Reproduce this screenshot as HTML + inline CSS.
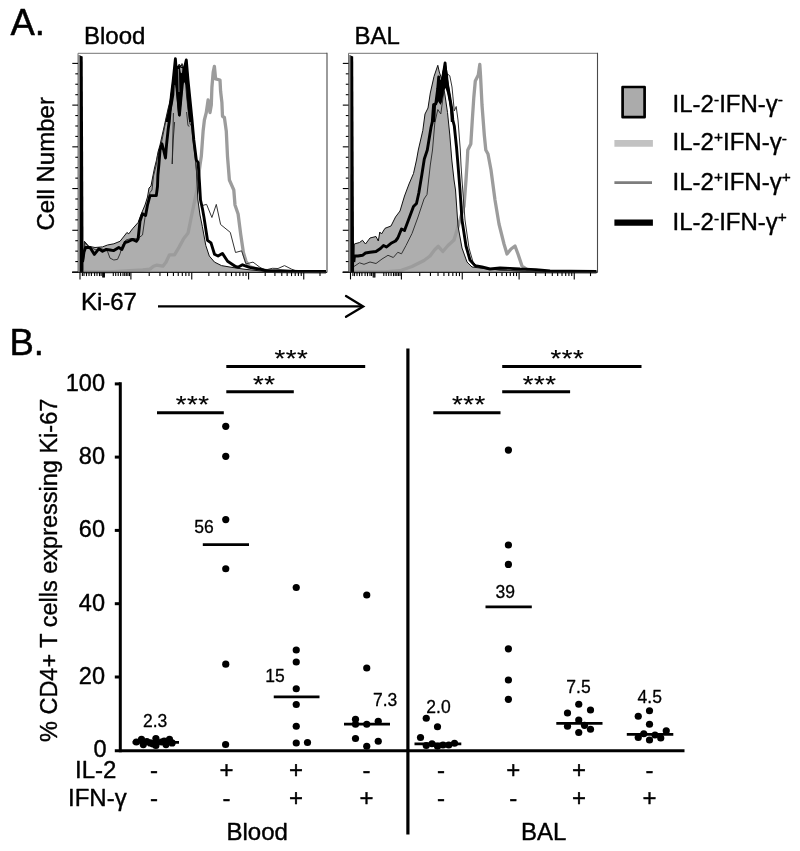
<!DOCTYPE html>
<html>
<head>
<meta charset="utf-8">
<title>Figure</title>
<style>
html,body{margin:0;padding:0;background:#fff;}
body{width:800px;height:851px;overflow:hidden;}
svg{display:block;filter:blur(0.35px);}
text{font-family:"Liberation Sans",sans-serif;fill:#000;stroke:#000;stroke-width:0.4px;stroke-linejoin:round;}
.t22{font-size:24px;}
.t21{font-size:23.5px;}
.tl{font-size:24px;}
.t16{font-size:17.5px;stroke-width:0.3px;}
.pan{font-size:36.5px;stroke-width:0.5px;}
.sup{font-size:15.5px;}
.ast{font-size:27.5px;letter-spacing:0.5px;stroke-width:0.2px;}
#wrap{width:800px;height:851px;will-change:transform;}
</style>
</head>
<body>
<div id="wrap">
<svg width="800" height="851" viewBox="0 0 800 851">
<rect x="0" y="0" width="800" height="851" fill="#fff"/>

<text class="pan" x="10.4" y="35.4">A.</text>
<text class="t22" x="84" y="44">Blood</text>
<text class="t22" x="354.4" y="44.4">BAL</text>
<text class="t22" transform="translate(54,230.5) rotate(-90)">Cell Number</text>
<text class="t22" x="80.9" y="310">Ki-67</text>
<line x1="158" y1="306.4" x2="362" y2="306.4" stroke="#000" stroke-width="2.3"/>
<polyline points="346,296 363.2,306.4 346,316.8" fill="none" stroke="#000" stroke-width="2.3" stroke-linejoin="miter" stroke-linecap="round"/>
<g id="hist-blood">
<polygon points="83.50,262.00 84.40,241.30 88.80,246.30 95.00,247.50 102.50,246.90 107.50,245.00 113.80,243.80 120.00,241.30 125.00,235.00 126.90,232.50 128.80,233.80 132.50,228.80 138.10,222.50 141.30,213.80 145.00,205.00 147.50,197.00 149.00,188.00 151.00,186.00 152.50,178.00 154.50,168.00 156.50,160.00 158.00,152.00 160.00,145.00 162.00,136.00 164.50,125.00 166.00,118.00 168.00,109.00 170.00,101.00 171.50,92.00 173.00,80.00 175.00,64.00 176.50,75.00 178.00,66.00 179.50,64.50 181.00,66.00 182.50,64.50 184.00,72.00 185.00,66.00 186.50,72.00 187.50,86.00 189.00,98.00 190.50,108.00 192.00,122.00 193.50,136.00 195.00,152.00 196.50,172.00 197.90,200.00 200.00,215.00 202.30,226.30 205.80,245.50 209.30,256.00 214.50,262.10 221.50,265.60 232.00,267.40 245.00,269.30 260.00,270.90 275.00,271.80 300.00,272.20 326.00,272.30 326.00,272.40 83.50,272.40" fill="#aeaeae" stroke="none"/>
<polyline points="84.00,272.00 110.00,271.80 130.00,270.60 143.00,270.00 150.00,269.10 153.50,266.30 156.50,265.20 162.90,266.20 166.10,262.00 169.40,254.90 174.50,254.90 179.10,247.10 183.60,238.70 188.10,232.90 190.70,220.00 193.80,205.00 196.90,190.00 200.00,165.00 201.30,156.30 203.10,131.30 204.40,120.00 206.30,112.50 208.10,100.00 210.00,112.50 211.30,105.00 211.90,87.50 213.20,72.00 214.40,66.30 215.60,78.80 220.00,80.00 220.60,91.30 221.90,102.50 222.50,116.30 224.40,117.50 226.30,131.30 227.50,156.30 229.40,180.00 233.80,190.00 235.00,205.00 238.10,214.00 240.80,235.00 243.40,252.50 246.00,261.30 249.50,266.50 260.00,270.00 275.00,271.50 300.00,272.20 326.00,272.30" fill="none" stroke="#9c9c9c" stroke-width="3.3" stroke-linejoin="round"/>
<polyline points="83.50,262.00 84.40,241.30 88.80,246.30 95.00,247.50 102.50,246.90 107.50,245.00 113.80,243.80 120.00,241.30 125.00,235.00 126.90,232.50 128.80,233.80 132.50,228.80 138.10,222.50 141.30,213.80 145.00,205.00 147.50,197.00 149.00,188.00 151.00,186.00 152.50,178.00 154.50,168.00 156.50,160.00 158.00,152.00 160.00,145.00 162.00,136.00 164.50,125.00 166.00,118.00 168.00,109.00 170.00,101.00 171.50,92.00 173.00,80.00 175.00,64.00 176.50,75.00 178.00,66.00 179.50,64.50 181.00,66.00 182.50,64.50 184.00,72.00 185.00,66.00 186.50,72.00 187.50,86.00 189.00,98.00 190.50,108.00 192.00,122.00 193.50,136.00 195.00,152.00 196.50,172.00 197.90,200.00 200.00,215.00 202.30,226.30 205.80,245.50 209.30,256.00 214.50,262.10 221.50,265.60 232.00,267.40 245.00,269.30 260.00,270.90 275.00,271.80 300.00,272.20 326.00,272.30" fill="none" stroke="#111" stroke-width="1" stroke-linejoin="round"/>
<polyline points="83.50,260.00 85.00,243.00 88.00,246.00 92.00,248.00 96.00,250.00 100.00,248.50 104.00,249.50 107.50,251.30 110.00,258.10 113.80,260.00 117.50,259.40 120.00,253.80 122.50,245.00 126.00,240.00 131.00,238.50 137.50,238.80 142.50,235.00 145.00,217.50 147.50,205.00 150.00,192.50 152.00,190.00 153.50,176.00 156.00,166.00 157.50,156.00 160.00,150.00 162.00,140.00 164.00,130.00 166.00,120.00 168.50,110.00 170.50,100.00 172.00,88.00 174.00,72.00 176.00,63.00 177.50,76.00 179.00,64.00 180.50,66.00 182.00,63.50 183.50,70.00 185.00,78.00 186.50,95.00 188.00,110.00 190.00,124.00 191.50,126.00 193.00,140.00 195.00,156.00 197.00,175.00 199.00,192.00 201.00,203.00 203.10,205.30 206.60,204.40 211.90,217.50 216.30,204.40 220.60,224.50 230.30,232.40 235.50,252.50 241.60,250.80 246.00,263.90 253.00,262.10 260.00,267.40 265.30,270.00 272.30,268.30 278.00,268.50 284.50,265.60 291.50,269.10 298.50,271.80 326.00,272.20" fill="none" stroke="#333" stroke-width="1" stroke-linejoin="round"/>
<polyline points="82.50,262.00 84.00,252.00 85.60,247.50 90.00,247.50 94.40,254.40 98.80,248.80 102.50,251.30 106.30,249.40 110.00,250.00 113.80,250.60 118.80,247.50 121.90,249.40 125.00,242.50 128.80,241.30 132.50,239.40 136.30,241.30 138.10,238.80 140.00,221.30 142.50,213.80 145.60,215.60 147.50,205.00 150.00,195.60 156.30,195.60 157.50,186.30 157.90,175.00 158.90,164.40 160.00,150.30 162.00,144.00 163.60,150.00 165.50,158.00 166.10,150.00 166.70,143.20 168.20,129.10 169.30,121.00 170.00,112.50 171.30,96.30 173.10,81.30 175.40,58.80 177.00,82.00 179.40,115.00 181.50,92.00 183.50,72.00 186.30,60.00 188.00,80.00 190.00,100.00 192.00,120.00 193.80,140.00 196.30,160.00 198.10,162.50 199.40,181.30 200.50,200.00 202.50,209.00 204.00,217.50 207.50,240.30 211.00,242.90 214.50,254.30 218.00,256.00 222.40,253.40 227.60,261.30 235.50,266.50 238.00,267.20 242.50,264.80 249.50,267.40 260.00,269.10 267.00,271.00 280.00,270.80 290.00,271.20 298.50,271.40 326.00,271.40" fill="none" stroke="#000" stroke-width="2.9" stroke-linejoin="round"/>
<polygon points="165.3,121.9 167.3,113.7 169.4,103 171.4,94.8 172.7,84.9 173.5,72.6 174.7,61.9 175.4,58.2 176.4,64.3 177.6,66 179.7,65.2 181.3,66.4 183.4,67.2 184.6,64.3 186.4,59 187.5,66 188.3,75 189.1,84.9 190.4,98 191.2,109.6 192.4,121.9 189.1,121.9 187.9,109.6 186.7,98 185.8,84.9 184.6,82.4 183.4,82.4 183,84.9 181.7,101.3 180.1,114.5 179.3,117 178,112.9 176.8,101.3 175.6,89 175.1,84.9 174.7,84.9 174.3,94.8 172.7,104.6 170.6,113.7 168.6,121.9" fill="#000"/><polygon points="180,67.6 182.4,68.2 182,73.2 180.7,72.4" fill="#aaa"/><polyline points="178.4,69 178.7,80 179,92" fill="none" stroke="#999" stroke-width="0.8"/><polyline points="173.4,113 172.9,135 172.2,164 173.2,140 174.6,122" fill="none" stroke="#222" stroke-width="0.9" stroke-linejoin="round"/><polyline points="186.6,112 187.4,120 188,125.6 189.4,126.3" fill="none" stroke="#222" stroke-width="0.9" stroke-linejoin="round"/>
<rect x="78.20" y="55" width="2" height="217.4" fill="#8a8a8a"/>
<polygon points="79.90,55.5 82.70,56.5 83.60,272.4 79.80,272.4" fill="#000"/>
<path d="M78.00 272.4 V53.3 H327.00" fill="none" stroke="#757575" stroke-width="1"/>
<line x1="327.00" y1="52.8" x2="327.00" y2="272.4" stroke="#4a4a4a" stroke-width="1.1"/>
<line x1="72.00" y1="272.4" x2="327.00" y2="272.4" stroke="#222" stroke-width="1.2"/>
<line x1="72.30" y1="272.00" x2="78.00" y2="272.00" stroke="#000" stroke-width="1.1"/>
<line x1="75.30" y1="261.57" x2="78.00" y2="261.57" stroke="#000" stroke-width="1.1"/>
<line x1="75.30" y1="251.14" x2="78.00" y2="251.14" stroke="#000" stroke-width="1.1"/>
<line x1="75.30" y1="240.71" x2="78.00" y2="240.71" stroke="#000" stroke-width="1.1"/>
<line x1="72.30" y1="230.28" x2="78.00" y2="230.28" stroke="#000" stroke-width="1.1"/>
<line x1="75.30" y1="219.85" x2="78.00" y2="219.85" stroke="#000" stroke-width="1.1"/>
<line x1="75.30" y1="209.42" x2="78.00" y2="209.42" stroke="#000" stroke-width="1.1"/>
<line x1="75.30" y1="198.99" x2="78.00" y2="198.99" stroke="#000" stroke-width="1.1"/>
<line x1="72.30" y1="188.56" x2="78.00" y2="188.56" stroke="#000" stroke-width="1.1"/>
<line x1="75.30" y1="178.13" x2="78.00" y2="178.13" stroke="#000" stroke-width="1.1"/>
<line x1="75.30" y1="167.70" x2="78.00" y2="167.70" stroke="#000" stroke-width="1.1"/>
<line x1="75.30" y1="157.27" x2="78.00" y2="157.27" stroke="#000" stroke-width="1.1"/>
<line x1="72.30" y1="146.84" x2="78.00" y2="146.84" stroke="#000" stroke-width="1.1"/>
<line x1="75.30" y1="136.41" x2="78.00" y2="136.41" stroke="#000" stroke-width="1.1"/>
<line x1="75.30" y1="125.98" x2="78.00" y2="125.98" stroke="#000" stroke-width="1.1"/>
<line x1="75.30" y1="115.55" x2="78.00" y2="115.55" stroke="#000" stroke-width="1.1"/>
<line x1="72.30" y1="105.12" x2="78.00" y2="105.12" stroke="#000" stroke-width="1.1"/>
<line x1="75.30" y1="94.69" x2="78.00" y2="94.69" stroke="#000" stroke-width="1.1"/>
<line x1="75.30" y1="84.26" x2="78.00" y2="84.26" stroke="#000" stroke-width="1.1"/>
<line x1="75.30" y1="73.83" x2="78.00" y2="73.83" stroke="#000" stroke-width="1.1"/>
<line x1="72.30" y1="63.40" x2="78.00" y2="63.40" stroke="#000" stroke-width="1.1"/>
<line x1="80.00" y1="272.4" x2="80.00" y2="279.40" stroke="#000" stroke-width="1.1"/>
<line x1="130.90" y1="272.4" x2="130.90" y2="279.40" stroke="#000" stroke-width="1.1"/>
<line x1="191.75" y1="272.4" x2="191.75" y2="279.40" stroke="#000" stroke-width="1.1"/>
<line x1="248.60" y1="272.4" x2="248.60" y2="279.40" stroke="#000" stroke-width="1.1"/>
<line x1="303.75" y1="272.4" x2="303.75" y2="279.40" stroke="#000" stroke-width="1.1"/>
<line x1="82.40" y1="272.4" x2="82.40" y2="276.10" stroke="#000" stroke-width="1.1"/>
<line x1="84.00" y1="272.4" x2="84.00" y2="276.10" stroke="#000" stroke-width="1.1"/>
<line x1="86.50" y1="272.4" x2="86.50" y2="276.10" stroke="#000" stroke-width="1.1"/>
<line x1="89.00" y1="272.4" x2="89.00" y2="276.10" stroke="#000" stroke-width="1.1"/>
<line x1="91.40" y1="272.4" x2="91.40" y2="276.10" stroke="#000" stroke-width="1.1"/>
<line x1="94.60" y1="272.4" x2="94.60" y2="276.10" stroke="#000" stroke-width="1.1"/>
<line x1="97.00" y1="272.4" x2="97.00" y2="276.10" stroke="#000" stroke-width="1.1"/>
<line x1="99.50" y1="272.4" x2="99.50" y2="276.10" stroke="#000" stroke-width="1.1"/>
<line x1="101.10" y1="272.4" x2="101.10" y2="276.10" stroke="#000" stroke-width="1.1"/>
<line x1="102.70" y1="272.4" x2="102.70" y2="277.40" stroke="#000" stroke-width="1.1"/>
<line x1="103.60" y1="272.4" x2="103.60" y2="277.40" stroke="#000" stroke-width="1.1"/>
<line x1="104.40" y1="272.4" x2="104.40" y2="277.40" stroke="#000" stroke-width="1.1"/>
<line x1="113.30" y1="272.4" x2="113.30" y2="276.10" stroke="#000" stroke-width="1.1"/>
<line x1="115.70" y1="272.4" x2="115.70" y2="276.10" stroke="#000" stroke-width="1.1"/>
<line x1="118.20" y1="272.4" x2="118.20" y2="276.10" stroke="#000" stroke-width="1.1"/>
<line x1="120.60" y1="272.4" x2="120.60" y2="276.10" stroke="#000" stroke-width="1.1"/>
<line x1="123.00" y1="272.4" x2="123.00" y2="276.10" stroke="#000" stroke-width="1.1"/>
<line x1="124.70" y1="272.4" x2="124.70" y2="276.10" stroke="#000" stroke-width="1.1"/>
<line x1="126.30" y1="272.4" x2="126.30" y2="276.10" stroke="#000" stroke-width="1.1"/>
<line x1="127.90" y1="272.4" x2="127.90" y2="276.10" stroke="#000" stroke-width="1.1"/>
<line x1="129.50" y1="272.4" x2="129.50" y2="276.10" stroke="#000" stroke-width="1.1"/>
<line x1="149.22" y1="272.4" x2="149.22" y2="276.10" stroke="#000" stroke-width="1.1"/>
<line x1="159.93" y1="272.4" x2="159.93" y2="276.10" stroke="#000" stroke-width="1.1"/>
<line x1="167.54" y1="272.4" x2="167.54" y2="276.10" stroke="#000" stroke-width="1.1"/>
<line x1="173.43" y1="272.4" x2="173.43" y2="276.10" stroke="#000" stroke-width="1.1"/>
<line x1="178.25" y1="272.4" x2="178.25" y2="276.10" stroke="#000" stroke-width="1.1"/>
<line x1="182.32" y1="272.4" x2="182.32" y2="276.10" stroke="#000" stroke-width="1.1"/>
<line x1="185.85" y1="272.4" x2="185.85" y2="276.10" stroke="#000" stroke-width="1.1"/>
<line x1="188.97" y1="272.4" x2="188.97" y2="276.10" stroke="#000" stroke-width="1.1"/>
<line x1="208.86" y1="272.4" x2="208.86" y2="276.10" stroke="#000" stroke-width="1.1"/>
<line x1="218.87" y1="272.4" x2="218.87" y2="276.10" stroke="#000" stroke-width="1.1"/>
<line x1="225.98" y1="272.4" x2="225.98" y2="276.10" stroke="#000" stroke-width="1.1"/>
<line x1="231.49" y1="272.4" x2="231.49" y2="276.10" stroke="#000" stroke-width="1.1"/>
<line x1="235.99" y1="272.4" x2="235.99" y2="276.10" stroke="#000" stroke-width="1.1"/>
<line x1="239.79" y1="272.4" x2="239.79" y2="276.10" stroke="#000" stroke-width="1.1"/>
<line x1="243.09" y1="272.4" x2="243.09" y2="276.10" stroke="#000" stroke-width="1.1"/>
<line x1="246.00" y1="272.4" x2="246.00" y2="276.10" stroke="#000" stroke-width="1.1"/>
<line x1="265.20" y1="272.4" x2="265.20" y2="276.10" stroke="#000" stroke-width="1.1"/>
<line x1="274.91" y1="272.4" x2="274.91" y2="276.10" stroke="#000" stroke-width="1.1"/>
<line x1="281.80" y1="272.4" x2="281.80" y2="276.10" stroke="#000" stroke-width="1.1"/>
<line x1="287.15" y1="272.4" x2="287.15" y2="276.10" stroke="#000" stroke-width="1.1"/>
<line x1="291.52" y1="272.4" x2="291.52" y2="276.10" stroke="#000" stroke-width="1.1"/>
<line x1="295.21" y1="272.4" x2="295.21" y2="276.10" stroke="#000" stroke-width="1.1"/>
<line x1="298.41" y1="272.4" x2="298.41" y2="276.10" stroke="#000" stroke-width="1.1"/>
<line x1="301.23" y1="272.4" x2="301.23" y2="276.10" stroke="#000" stroke-width="1.1"/>
<line x1="320.01" y1="272.4" x2="320.01" y2="276.10" stroke="#000" stroke-width="1.1"/>
</g>
<g id="hist-bal">
<polygon points="354.00,262.00 354.30,244.00 359.50,242.50 362.50,240.30 365.50,244.00 370.00,238.00 376.00,236.50 378.30,241.00 379.80,232.00 381.50,234.00 385.00,228.30 391.00,226.00 395.50,217.00 400.00,211.00 404.50,196.00 409.00,184.00 413.50,173.50 416.50,160.00 418.30,150.00 422.80,130.50 425.00,114.00 428.00,108.00 430.30,93.00 434.00,76.50 437.80,65.30 439.30,72.00 442.00,80.00 444.50,92.00 447.50,112.50 449.80,135.00 451.80,160.00 454.00,180.00 455.50,190.00 458.00,226.00 462.00,248.00 467.00,262.00 472.00,267.00 480.00,268.00 500.00,270.00 530.00,271.50 560.00,272.20 596.50,272.30 596.50,272.40 354.00,272.40" fill="#aeaeae" stroke="none"/>
<polyline points="354.00,272.00 359.50,271.80 385.00,271.80 400.00,270.70 412.00,266.50 424.00,260.50 430.00,256.00 434.50,250.00 438.30,246.30 442.80,251.50 448.00,245.50 454.00,240.00 460.00,220.00 464.00,206.00 466.00,180.00 467.30,160.00 467.80,150.00 470.80,144.00 472.30,120.00 473.80,97.50 475.30,81.00 478.30,75.00 479.80,64.50 480.50,75.00 482.00,105.00 484.30,135.00 485.80,150.00 488.00,154.00 491.00,170.00 495.00,200.00 499.00,224.00 504.00,244.00 507.00,254.00 511.00,249.00 515.00,246.00 518.00,254.00 522.00,266.00 528.00,270.00 536.00,272.00 596.50,272.30" fill="none" stroke="#9c9c9c" stroke-width="3.3" stroke-linejoin="round"/>
<polyline points="354.00,262.00 354.30,244.00 359.50,242.50 362.50,240.30 365.50,244.00 370.00,238.00 376.00,236.50 378.30,241.00 379.80,232.00 381.50,234.00 385.00,228.30 391.00,226.00 395.50,217.00 400.00,211.00 404.50,196.00 409.00,184.00 413.50,173.50 416.50,160.00 418.30,150.00 422.80,130.50 425.00,114.00 428.00,108.00 430.30,93.00 434.00,76.50 437.80,65.30 439.30,72.00 442.00,80.00 444.50,92.00 447.50,112.50 449.80,135.00 451.80,160.00 454.00,180.00 455.50,190.00 458.00,226.00 462.00,248.00 467.00,262.00 472.00,267.00 480.00,268.00 500.00,270.00 530.00,271.50 560.00,272.20 596.50,272.30" fill="none" stroke="#111" stroke-width="1" stroke-linejoin="round"/>
<polyline points="352.80,267.30 359.50,262.80 364.00,264.30 370.00,262.00 376.00,263.50 382.00,259.00 388.00,255.30 393.30,257.50 397.80,252.30 401.50,253.80 406.00,245.50 412.00,233.50 418.00,217.00 424.00,199.00 427.00,194.50 428.50,181.00 430.30,165.00 432.50,150.00 434.80,123.00 437.80,109.50 440.80,114.00 443.80,91.50 446.00,78.00 447.50,74.00 449.80,75.80 452.00,87.00 454.30,111.00 456.20,106.50 458.00,120.00 460.30,150.00 461.00,165.00 462.00,180.00 465.00,220.00 469.00,248.00 473.00,262.00 477.00,266.00 485.00,268.50 500.00,270.00 530.00,271.50 560.00,272.20 596.50,272.30" fill="none" stroke="#333" stroke-width="1" stroke-linejoin="round"/>
<polyline points="353.80,262.00 354.50,256.00 358.00,256.00 362.50,255.30 365.50,253.00 370.00,252.30 376.00,251.50 380.50,248.50 383.50,245.50 386.50,247.00 391.00,243.30 395.50,241.00 397.80,238.00 401.50,229.00 404.50,230.50 409.00,218.50 413.50,206.50 416.50,203.50 418.80,193.00 421.80,175.00 424.30,159.00 427.30,150.00 431.00,127.50 432.30,121.90 433.60,104.60 435.80,103.80 437.70,89.00 438.70,77.00 440.10,102.00 442.50,80.00 445.10,63.00 446.10,76.70 449.00,93.10 451.90,109.60 452.80,120.00 454.30,126.00 456.50,147.00 458.00,165.00 460.00,190.00 462.00,220.00 466.00,246.00 470.00,260.00 475.00,265.60 482.00,267.00 490.00,269.00 500.00,268.00 510.00,268.40 520.00,269.00 536.00,269.60 550.00,271.00 570.00,271.30 596.50,271.40" fill="none" stroke="#000" stroke-width="2.9" stroke-linejoin="round"/>
<polygon points="432.3,121.9 433.6,104.6 435.6,101.3 436.9,89 437.7,79.1 438.5,75.5 439.6,79.5 441.2,80 442.2,72.6 443.8,66.5 445.1,62 446.3,66 448,75 448.8,84.9 450.8,98 452.9,111.2 454.1,121.9 450.8,121.9 450,109.6 448.8,101.3 447.1,93.1 445.5,88 444,90.5 443.4,95 442,101 440.6,105 439.5,103 438.5,101.3 436,105.5 435.2,121.9" fill="#000"/>
<rect x="348.70" y="55" width="2" height="217.4" fill="#8a8a8a"/>
<polygon points="350.40,55.5 353.20,56.5 354.10,272.4 350.30,272.4" fill="#000"/>
<path d="M348.50 272.4 V53.3 H597.50" fill="none" stroke="#757575" stroke-width="1"/>
<line x1="597.50" y1="52.8" x2="597.50" y2="272.4" stroke="#4a4a4a" stroke-width="1.1"/>
<line x1="342.50" y1="272.4" x2="597.50" y2="272.4" stroke="#222" stroke-width="1.2"/>
<line x1="342.80" y1="272.00" x2="348.50" y2="272.00" stroke="#000" stroke-width="1.1"/>
<line x1="345.80" y1="261.57" x2="348.50" y2="261.57" stroke="#000" stroke-width="1.1"/>
<line x1="345.80" y1="251.14" x2="348.50" y2="251.14" stroke="#000" stroke-width="1.1"/>
<line x1="345.80" y1="240.71" x2="348.50" y2="240.71" stroke="#000" stroke-width="1.1"/>
<line x1="342.80" y1="230.28" x2="348.50" y2="230.28" stroke="#000" stroke-width="1.1"/>
<line x1="345.80" y1="219.85" x2="348.50" y2="219.85" stroke="#000" stroke-width="1.1"/>
<line x1="345.80" y1="209.42" x2="348.50" y2="209.42" stroke="#000" stroke-width="1.1"/>
<line x1="345.80" y1="198.99" x2="348.50" y2="198.99" stroke="#000" stroke-width="1.1"/>
<line x1="342.80" y1="188.56" x2="348.50" y2="188.56" stroke="#000" stroke-width="1.1"/>
<line x1="345.80" y1="178.13" x2="348.50" y2="178.13" stroke="#000" stroke-width="1.1"/>
<line x1="345.80" y1="167.70" x2="348.50" y2="167.70" stroke="#000" stroke-width="1.1"/>
<line x1="345.80" y1="157.27" x2="348.50" y2="157.27" stroke="#000" stroke-width="1.1"/>
<line x1="342.80" y1="146.84" x2="348.50" y2="146.84" stroke="#000" stroke-width="1.1"/>
<line x1="345.80" y1="136.41" x2="348.50" y2="136.41" stroke="#000" stroke-width="1.1"/>
<line x1="345.80" y1="125.98" x2="348.50" y2="125.98" stroke="#000" stroke-width="1.1"/>
<line x1="345.80" y1="115.55" x2="348.50" y2="115.55" stroke="#000" stroke-width="1.1"/>
<line x1="342.80" y1="105.12" x2="348.50" y2="105.12" stroke="#000" stroke-width="1.1"/>
<line x1="345.80" y1="94.69" x2="348.50" y2="94.69" stroke="#000" stroke-width="1.1"/>
<line x1="345.80" y1="84.26" x2="348.50" y2="84.26" stroke="#000" stroke-width="1.1"/>
<line x1="345.80" y1="73.83" x2="348.50" y2="73.83" stroke="#000" stroke-width="1.1"/>
<line x1="342.80" y1="63.40" x2="348.50" y2="63.40" stroke="#000" stroke-width="1.1"/>
<line x1="350.50" y1="272.4" x2="350.50" y2="279.40" stroke="#000" stroke-width="1.1"/>
<line x1="401.40" y1="272.4" x2="401.40" y2="279.40" stroke="#000" stroke-width="1.1"/>
<line x1="462.25" y1="272.4" x2="462.25" y2="279.40" stroke="#000" stroke-width="1.1"/>
<line x1="519.10" y1="272.4" x2="519.10" y2="279.40" stroke="#000" stroke-width="1.1"/>
<line x1="574.25" y1="272.4" x2="574.25" y2="279.40" stroke="#000" stroke-width="1.1"/>
<line x1="352.90" y1="272.4" x2="352.90" y2="276.10" stroke="#000" stroke-width="1.1"/>
<line x1="354.50" y1="272.4" x2="354.50" y2="276.10" stroke="#000" stroke-width="1.1"/>
<line x1="357.00" y1="272.4" x2="357.00" y2="276.10" stroke="#000" stroke-width="1.1"/>
<line x1="359.50" y1="272.4" x2="359.50" y2="276.10" stroke="#000" stroke-width="1.1"/>
<line x1="361.90" y1="272.4" x2="361.90" y2="276.10" stroke="#000" stroke-width="1.1"/>
<line x1="365.10" y1="272.4" x2="365.10" y2="276.10" stroke="#000" stroke-width="1.1"/>
<line x1="367.50" y1="272.4" x2="367.50" y2="276.10" stroke="#000" stroke-width="1.1"/>
<line x1="370.00" y1="272.4" x2="370.00" y2="276.10" stroke="#000" stroke-width="1.1"/>
<line x1="371.60" y1="272.4" x2="371.60" y2="276.10" stroke="#000" stroke-width="1.1"/>
<line x1="373.20" y1="272.4" x2="373.20" y2="277.40" stroke="#000" stroke-width="1.1"/>
<line x1="374.10" y1="272.4" x2="374.10" y2="277.40" stroke="#000" stroke-width="1.1"/>
<line x1="374.90" y1="272.4" x2="374.90" y2="277.40" stroke="#000" stroke-width="1.1"/>
<line x1="383.80" y1="272.4" x2="383.80" y2="276.10" stroke="#000" stroke-width="1.1"/>
<line x1="386.20" y1="272.4" x2="386.20" y2="276.10" stroke="#000" stroke-width="1.1"/>
<line x1="388.70" y1="272.4" x2="388.70" y2="276.10" stroke="#000" stroke-width="1.1"/>
<line x1="391.10" y1="272.4" x2="391.10" y2="276.10" stroke="#000" stroke-width="1.1"/>
<line x1="393.50" y1="272.4" x2="393.50" y2="276.10" stroke="#000" stroke-width="1.1"/>
<line x1="395.20" y1="272.4" x2="395.20" y2="276.10" stroke="#000" stroke-width="1.1"/>
<line x1="396.80" y1="272.4" x2="396.80" y2="276.10" stroke="#000" stroke-width="1.1"/>
<line x1="398.40" y1="272.4" x2="398.40" y2="276.10" stroke="#000" stroke-width="1.1"/>
<line x1="400.00" y1="272.4" x2="400.00" y2="276.10" stroke="#000" stroke-width="1.1"/>
<line x1="419.72" y1="272.4" x2="419.72" y2="276.10" stroke="#000" stroke-width="1.1"/>
<line x1="430.43" y1="272.4" x2="430.43" y2="276.10" stroke="#000" stroke-width="1.1"/>
<line x1="438.04" y1="272.4" x2="438.04" y2="276.10" stroke="#000" stroke-width="1.1"/>
<line x1="443.93" y1="272.4" x2="443.93" y2="276.10" stroke="#000" stroke-width="1.1"/>
<line x1="448.75" y1="272.4" x2="448.75" y2="276.10" stroke="#000" stroke-width="1.1"/>
<line x1="452.82" y1="272.4" x2="452.82" y2="276.10" stroke="#000" stroke-width="1.1"/>
<line x1="456.35" y1="272.4" x2="456.35" y2="276.10" stroke="#000" stroke-width="1.1"/>
<line x1="459.47" y1="272.4" x2="459.47" y2="276.10" stroke="#000" stroke-width="1.1"/>
<line x1="479.36" y1="272.4" x2="479.36" y2="276.10" stroke="#000" stroke-width="1.1"/>
<line x1="489.37" y1="272.4" x2="489.37" y2="276.10" stroke="#000" stroke-width="1.1"/>
<line x1="496.48" y1="272.4" x2="496.48" y2="276.10" stroke="#000" stroke-width="1.1"/>
<line x1="501.99" y1="272.4" x2="501.99" y2="276.10" stroke="#000" stroke-width="1.1"/>
<line x1="506.49" y1="272.4" x2="506.49" y2="276.10" stroke="#000" stroke-width="1.1"/>
<line x1="510.29" y1="272.4" x2="510.29" y2="276.10" stroke="#000" stroke-width="1.1"/>
<line x1="513.59" y1="272.4" x2="513.59" y2="276.10" stroke="#000" stroke-width="1.1"/>
<line x1="516.50" y1="272.4" x2="516.50" y2="276.10" stroke="#000" stroke-width="1.1"/>
<line x1="535.70" y1="272.4" x2="535.70" y2="276.10" stroke="#000" stroke-width="1.1"/>
<line x1="545.41" y1="272.4" x2="545.41" y2="276.10" stroke="#000" stroke-width="1.1"/>
<line x1="552.30" y1="272.4" x2="552.30" y2="276.10" stroke="#000" stroke-width="1.1"/>
<line x1="557.65" y1="272.4" x2="557.65" y2="276.10" stroke="#000" stroke-width="1.1"/>
<line x1="562.02" y1="272.4" x2="562.02" y2="276.10" stroke="#000" stroke-width="1.1"/>
<line x1="565.71" y1="272.4" x2="565.71" y2="276.10" stroke="#000" stroke-width="1.1"/>
<line x1="568.91" y1="272.4" x2="568.91" y2="276.10" stroke="#000" stroke-width="1.1"/>
<line x1="571.73" y1="272.4" x2="571.73" y2="276.10" stroke="#000" stroke-width="1.1"/>
<line x1="590.51" y1="272.4" x2="590.51" y2="276.10" stroke="#000" stroke-width="1.1"/>
</g>
<rect x="622.6" y="87" width="22" height="30.2" fill="#ababab" stroke="#000" stroke-width="2.7" stroke-linejoin="round"/>
<line x1="614.4" y1="143.4" x2="652.9" y2="143.4" stroke="#c2c2c2" stroke-width="6.8"/>
<line x1="614.4" y1="182.6" x2="652" y2="182.6" stroke="#7d7d7d" stroke-width="2.8"/>
<line x1="614.4" y1="222.7" x2="652.9" y2="222.7" stroke="#000" stroke-width="6.2"/>
<text class="t22" x="672.6" y="112.2">IL-2<tspan class="sup" dy="-6.8">-</tspan><tspan dy="6.8">IFN-γ</tspan><tspan class="sup" dy="-6.8">-</tspan></text>
<text class="t22" x="672.6" y="150.4">IL-2<tspan class="sup" dy="-8.2">+</tspan><tspan dy="8.2">IFN-γ</tspan><tspan class="sup" dy="-6.8">-</tspan></text>
<text class="t22" x="672.6" y="190.4">IL-2<tspan class="sup" dy="-8.2">+</tspan><tspan dy="8.2">IFN-γ</tspan><tspan class="sup" dy="-8.2">+</tspan></text>
<text class="t22" x="672.6" y="230.4">IL-2<tspan class="sup" dy="-6.8">-</tspan><tspan dy="6.8">IFN-γ</tspan><tspan class="sup" dy="-8.2">+</tspan></text>
<text class="pan" x="9.5" y="355.3">B.</text>
<line x1="120.3" y1="382.3" x2="120.3" y2="752.2" stroke="#000" stroke-width="3"/>
<line x1="114.8" y1="750.8" x2="684.5" y2="750.7" stroke="#000" stroke-width="3"/>
<line x1="407.9" y1="348.5" x2="407.9" y2="834.5" stroke="#000" stroke-width="3.2"/>
<line x1="114.8" y1="383.9" x2="120.3" y2="383.9" stroke="#000" stroke-width="3"/>
<text class="t21" x="105" y="390.7" text-anchor="end">100</text>
<line x1="114.8" y1="457.1" x2="120.3" y2="457.1" stroke="#000" stroke-width="3"/>
<text class="t21" x="105" y="463.9" text-anchor="end">80</text>
<line x1="114.8" y1="530.4" x2="120.3" y2="530.4" stroke="#000" stroke-width="3"/>
<text class="t21" x="105" y="537.2" text-anchor="end">60</text>
<line x1="114.8" y1="603.7" x2="120.3" y2="603.7" stroke="#000" stroke-width="3"/>
<text class="t21" x="105" y="610.5" text-anchor="end">40</text>
<line x1="114.8" y1="677.0" x2="120.3" y2="677.0" stroke="#000" stroke-width="3"/>
<text class="t21" x="105" y="683.8" text-anchor="end">20</text>
<text class="t21" x="106.6" y="757.2" text-anchor="end">0</text>
<text class="t21" transform="translate(56.5,742) rotate(-90)">% CD4+ T cells expressing Ki-67</text>
<line x1="226.30" y1="366.50" x2="365.20" y2="366.50" stroke="#000" stroke-width="3.0"/>
<line x1="226.30" y1="391.80" x2="293.80" y2="391.80" stroke="#000" stroke-width="3.0"/>
<line x1="157.00" y1="412.70" x2="223.80" y2="412.70" stroke="#000" stroke-width="3.0"/>
<line x1="502.20" y1="366.50" x2="641.50" y2="366.50" stroke="#000" stroke-width="3.0"/>
<line x1="502.20" y1="391.80" x2="570.10" y2="391.80" stroke="#000" stroke-width="3.0"/>
<line x1="433.30" y1="412.70" x2="500.50" y2="412.70" stroke="#000" stroke-width="3.0"/>
<text class="ast" transform="translate(291.3,367.2) scale(1,0.9)" text-anchor="middle">***</text>
<text class="ast" transform="translate(264.3,392.5) scale(1,0.9)" text-anchor="middle">**</text>
<text class="ast" transform="translate(192.6,413.4) scale(1,0.9)" text-anchor="middle">***</text>
<text class="ast" transform="translate(567.3,367.2) scale(1,0.9)" text-anchor="middle">***</text>
<text class="ast" transform="translate(539.6,392.5) scale(1,0.9)" text-anchor="middle">***</text>
<text class="ast" transform="translate(468.9,413.4) scale(1,0.9)" text-anchor="middle">***</text>
<line x1="132.60" y1="742.30" x2="179.00" y2="742.30" stroke="#000" stroke-width="2.8"/>
<line x1="202.80" y1="544.70" x2="249.00" y2="544.70" stroke="#000" stroke-width="2.8"/>
<line x1="273.75" y1="696.80" x2="319.50" y2="696.80" stroke="#000" stroke-width="2.8"/>
<line x1="344.00" y1="724.10" x2="390.00" y2="724.10" stroke="#000" stroke-width="2.8"/>
<line x1="414.50" y1="743.80" x2="461.30" y2="743.80" stroke="#000" stroke-width="2.8"/>
<line x1="485.50" y1="606.80" x2="531.80" y2="606.80" stroke="#000" stroke-width="2.8"/>
<line x1="556.30" y1="723.40" x2="602.50" y2="723.40" stroke="#000" stroke-width="2.8"/>
<line x1="626.80" y1="734.30" x2="673.30" y2="734.30" stroke="#000" stroke-width="2.8"/>
<g fill="#000">
<circle cx="136.30" cy="742.00" r="3.6"/>
<circle cx="141.50" cy="739.40" r="3.6"/>
<circle cx="143.30" cy="744.60" r="3.6"/>
<circle cx="150.30" cy="742.90" r="3.6"/>
<circle cx="155.90" cy="738.50" r="3.6"/>
<circle cx="155.90" cy="745.50" r="3.6"/>
<circle cx="161.60" cy="742.00" r="3.6"/>
<circle cx="166.00" cy="744.60" r="3.6"/>
<circle cx="169.50" cy="739.40" r="3.6"/>
<circle cx="172.10" cy="742.90" r="3.6"/>
<circle cx="146.80" cy="741.60" r="3.6"/>
<circle cx="152.80" cy="743.80" r="3.6"/>
<circle cx="164.20" cy="741.20" r="3.6"/>
<circle cx="225.75" cy="426.30" r="3.6"/>
<circle cx="225.75" cy="456.30" r="3.6"/>
<circle cx="225.75" cy="519.60" r="3.6"/>
<circle cx="225.75" cy="568.75" r="3.6"/>
<circle cx="225.75" cy="664.20" r="3.6"/>
<circle cx="225.60" cy="744.50" r="3.6"/>
<circle cx="296.25" cy="587.50" r="3.6"/>
<circle cx="296.25" cy="650.00" r="3.6"/>
<circle cx="296.25" cy="662.00" r="3.6"/>
<circle cx="296.25" cy="688.75" r="3.6"/>
<circle cx="296.25" cy="704.50" r="3.6"/>
<circle cx="296.25" cy="726.25" r="3.6"/>
<circle cx="296.25" cy="743.00" r="3.6"/>
<circle cx="307.50" cy="742.50" r="3.6"/>
<circle cx="366.75" cy="595.00" r="3.6"/>
<circle cx="366.75" cy="668.00" r="3.6"/>
<circle cx="355.50" cy="719.25" r="3.6"/>
<circle cx="378.25" cy="721.25" r="3.6"/>
<circle cx="355.50" cy="724.25" r="3.6"/>
<circle cx="366.75" cy="724.25" r="3.6"/>
<circle cx="355.50" cy="738.50" r="3.6"/>
<circle cx="378.25" cy="741.25" r="3.6"/>
<circle cx="366.75" cy="746.25" r="3.6"/>
<circle cx="426.25" cy="718.25" r="3.6"/>
<circle cx="437.50" cy="726.75" r="3.6"/>
<circle cx="420.50" cy="737.50" r="3.6"/>
<circle cx="426.25" cy="745.50" r="3.6"/>
<circle cx="432.00" cy="743.75" r="3.6"/>
<circle cx="437.50" cy="746.25" r="3.6"/>
<circle cx="443.00" cy="745.00" r="3.6"/>
<circle cx="448.75" cy="745.00" r="3.6"/>
<circle cx="454.50" cy="743.25" r="3.6"/>
<circle cx="508.40" cy="450.10" r="3.6"/>
<circle cx="508.40" cy="545.00" r="3.6"/>
<circle cx="508.40" cy="564.40" r="3.6"/>
<circle cx="508.40" cy="648.80" r="3.6"/>
<circle cx="508.40" cy="680.00" r="3.6"/>
<circle cx="508.40" cy="699.30" r="3.6"/>
<circle cx="578.75" cy="704.25" r="3.6"/>
<circle cx="567.50" cy="713.00" r="3.6"/>
<circle cx="590.50" cy="710.00" r="3.6"/>
<circle cx="578.75" cy="720.00" r="3.6"/>
<circle cx="567.50" cy="726.25" r="3.6"/>
<circle cx="584.50" cy="725.30" r="3.6"/>
<circle cx="590.50" cy="729.25" r="3.6"/>
<circle cx="578.75" cy="732.50" r="3.6"/>
<circle cx="649.50" cy="710.75" r="3.6"/>
<circle cx="638.25" cy="716.25" r="3.6"/>
<circle cx="649.50" cy="724.25" r="3.6"/>
<circle cx="666.25" cy="730.75" r="3.6"/>
<circle cx="643.75" cy="733.75" r="3.6"/>
<circle cx="655.00" cy="735.00" r="3.6"/>
<circle cx="638.25" cy="737.50" r="3.6"/>
<circle cx="660.75" cy="738.00" r="3.6"/>
<circle cx="649.50" cy="740.00" r="3.6"/>
</g>
<text class="t16" x="143.0" y="727.4">2.3</text>
<text class="t16" x="194.3" y="532.5">56</text>
<text class="t16" x="265.2" y="681.8">15</text>
<text class="t16" x="373.0" y="706.3">7.3</text>
<text class="t16" x="426.3" y="712.5">2.0</text>
<text class="t16" x="495.5" y="597.5">39</text>
<text class="t16" x="566.3" y="692.5">7.5</text>
<text class="t16" x="637.6" y="703.0">4.5</text>
<text class="tl" x="75" y="778">IL-2</text>
<text class="tl" x="68" y="806.3">IFN-γ</text>
<text class="tl" x="154.1" y="778" text-anchor="middle">-</text>
<text class="tl" x="226.6" y="778" text-anchor="middle">+</text>
<text class="tl" x="295.9" y="778" text-anchor="middle">+</text>
<text class="tl" x="366.5" y="778" text-anchor="middle">-</text>
<text class="tl" x="440.9" y="778" text-anchor="middle">-</text>
<text class="tl" x="513.2" y="778" text-anchor="middle">+</text>
<text class="tl" x="578.9" y="778" text-anchor="middle">+</text>
<text class="tl" x="649.6" y="778" text-anchor="middle">-</text>
<text class="tl" x="154.1" y="806.1" text-anchor="middle">-</text>
<text class="tl" x="226.6" y="806.1" text-anchor="middle">-</text>
<text class="tl" x="295.9" y="806.1" text-anchor="middle">+</text>
<text class="tl" x="366.5" y="806.1" text-anchor="middle">+</text>
<text class="tl" x="440.9" y="806.1" text-anchor="middle">-</text>
<text class="tl" x="513.2" y="806.1" text-anchor="middle">-</text>
<text class="tl" x="578.9" y="806.1" text-anchor="middle">+</text>
<text class="tl" x="649.6" y="806.1" text-anchor="middle">+</text>
<text class="t22" x="226.5" y="840">Blood</text>
<text class="t22" x="521.1" y="840">BAL</text>
</svg>
</div>
</body>
</html>
